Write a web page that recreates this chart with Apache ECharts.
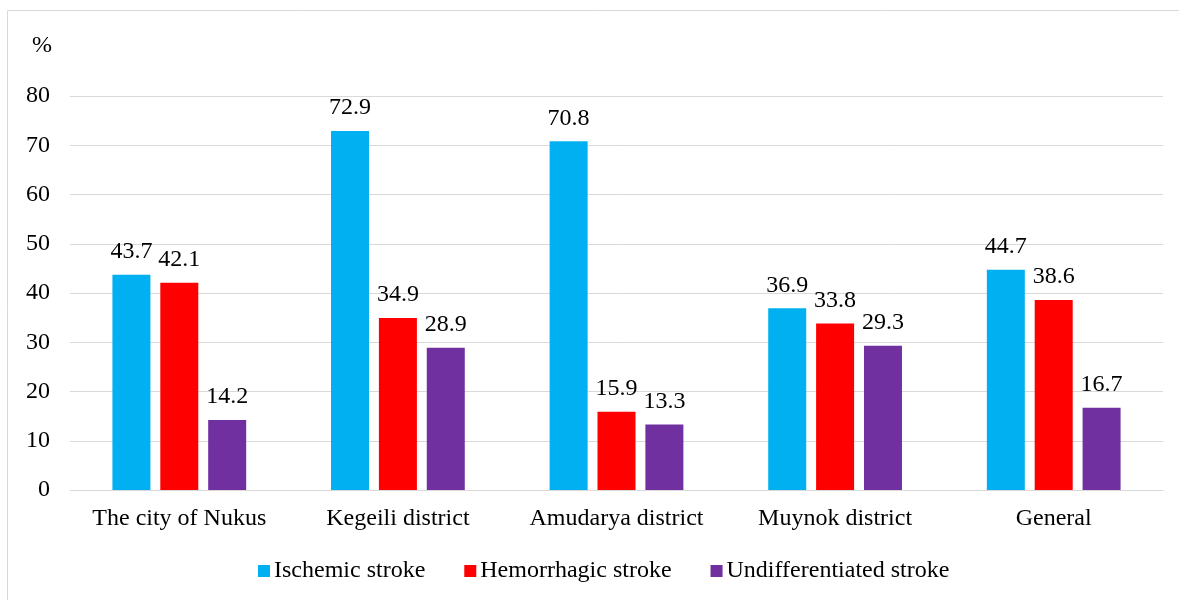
<!DOCTYPE html>
<html><head><meta charset="utf-8">
<script src="https://cdn.jsdelivr.net/npm/echarts@6/dist/echarts.min.js"></script>
<style>html,body{margin:0;padding:0;background:#fff}#c{width:1179px;height:600px}</style>
</head><body><div id="c"></div>
<script>
const categories = ['The city of Nukus','Kegeili district','Amudarya district','Muynok district','General'];
const ischemic = [43.7, 72.9, 70.8, 36.9, 44.7];
const hemorrhagic = [42.1, 34.9, 15.9, 33.8, 38.6];
const undifferentiated = [14.2, 28.9, 13.3, 29.3, 16.7];
const seriesNames = ['Ischemic stroke','Hemorrhagic stroke','Undifferentiated stroke'];
const colors = ['#00B0F0','#FF0000','#7030A0'];
const font = 'Liberation Serif, Times New Roman, serif';
const chart = echarts.init(document.getElementById('c'));
const mk = (name, data, color) => ({
  name, type:'bar', data, barWidth:38, barGap:'26%',
  itemStyle:{color},
  label:{show:true, position:'top', distance:11, color:'#000', fontFamily:font, fontSize:24, formatter:p=>p.value.toFixed(1)}
});
chart.setOption({
  animation:false,
  textStyle:{fontFamily:font},
  graphic:[
    {type:'rect', shape:{x:7.5,y:10.5,width:1200,height:620}, style:{fill:'none', stroke:'#d9d9d9', lineWidth:1}, z:-1},
    {type:'text', left:32, top:34, style:{text:'%', font:'24px '+font, fill:'#000'}}
  ],
  grid:{left:70, right:16, top:96, bottom:110, containLabel:false},
  legend:{top:554, left:253, itemWidth:12, itemHeight:12, itemGap:39, icon:'rect',
    textStyle:{fontFamily:font, fontSize:24, color:'#000', padding:[0,0,0,-1]}, data:seriesNames},
  xAxis:{type:'category', data:categories,
    axisLine:{lineStyle:{color:'#d9d9d9'}}, axisTick:{show:false},
    axisLabel:{color:'#000', fontFamily:font, fontSize:24, margin:17, interval:0}},
  yAxis:{type:'value', min:0, max:80, interval:10,
    axisLine:{show:false}, axisTick:{show:false},
    splitLine:{lineStyle:{color:'#d9d9d9'}},
    axisLabel:{color:'#000', fontFamily:font, fontSize:24, margin:20}},
  series:[mk(seriesNames[0], ischemic, colors[0]), mk(seriesNames[1], hemorrhagic, colors[1]), mk(seriesNames[2], undifferentiated, colors[2])]
});
</script></body></html>
